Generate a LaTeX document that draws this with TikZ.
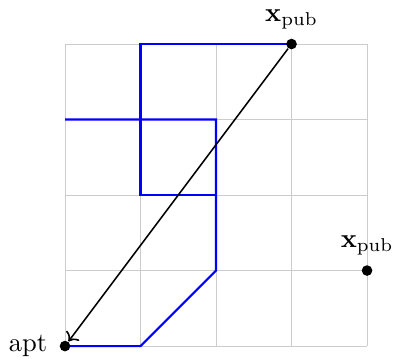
\documentclass[tikz,border=0pt]{standalone}
\usetikzlibrary{arrows.meta}
\begin{document}
\begin{tikzpicture}[
  dot/.style={circle,fill=black,inner sep=0pt,minimum size=4pt},
  route/.style={blue,thick,line join=miter},
  gridline/.style={black!20,very thin}
]
\useasboundingbox (-0.861,-0.172) rectangle (4.41,4.583);
\draw[gridline] (0,0) grid (4,4);
\draw[route] (0,0) -- (1,0) -- (2,1) -- (2,3) -- (0,3);
\draw[route] (3,4) -- (1,4) -- (1,2) -- (2,2);
\node[dot,label={[label distance=1pt]left:apt}] (apt) at (0,0) {};
\node[dot,label={above:$\mathbf{x}_{\mathrm{pub}}$}] (xa) at (3,4) {};
\node[dot,label={above:$\mathbf{x}_{\mathrm{pub}}$}] (xb) at (4,1) {};
\draw[semithick,->] (xa) -- (apt);
\end{tikzpicture}
\end{document}
